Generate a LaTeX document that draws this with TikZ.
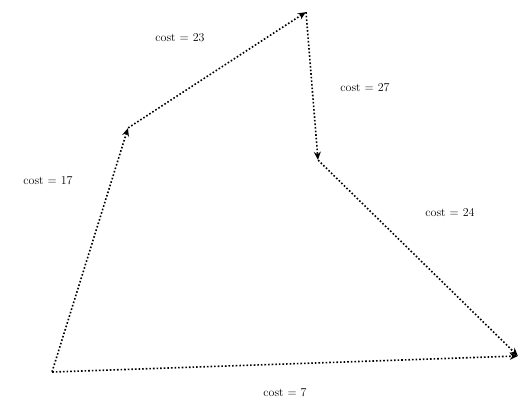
\documentclass[tikz,border=0pt]{standalone}
\usepackage{tikz}
\usetikzlibrary{arrows.meta}

\begin{document}
\begin{tikzpicture}[x=1pt, y=-1pt, >={Stealth[length=8pt, width=7pt]},
    vert/.style={inner sep=0pt, minimum size=0pt},
    edge/.style={->, dotted, line width=1.6pt},
    wlab/.style={font=\large, inner sep=1pt}]
  \useasboundingbox (0,0) rectangle (524,405);
  \node[vert] (a) at (52,372) {};
  \node[vert] (b) at (128,128) {};
  \node[vert] (c) at (306,12) {};
  \node[vert] (d) at (318,160) {};
  \node[vert] (e) at (518,356) {};
  \draw[edge] (a) -- (b);
  \draw[edge] (b) -- (c);
  \draw[edge] (c) -- (d);
  \draw[edge] (d) -- (e);
  \draw[edge] (a) -- (e);
  \node[wlab] (lbc) at (180,38) {cost = 23};
  \node[wlab] (lcd) at (365,88) {cost = 27};
  \node[wlab] (lab) at (48,181) {cost = 17};
  \node[wlab] (lde) at (450,213) {cost = 24};
  \node[wlab] (lae) at (285,393) {cost = 7};
\end{tikzpicture}
\end{document}
